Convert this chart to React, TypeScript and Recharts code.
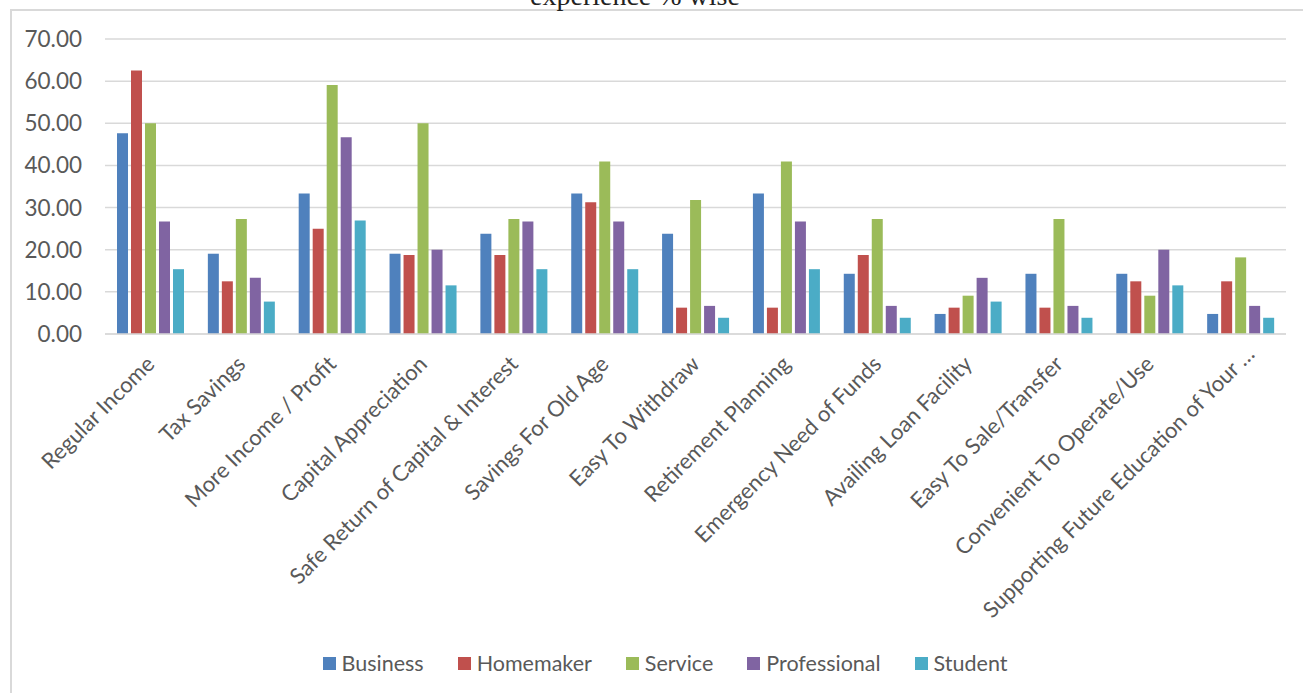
import React from 'react';
import { BarChart, Bar, XAxis, YAxis, CartesianGrid, Legend } from 'recharts';

const categories = [
  'Regular Income',
  'Tax Savings',
  'More Income / Profit',
  'Capital Appreciation',
  'Safe Return of Capital & Interest',
  'Savings For Old Age',
  'Easy To Withdraw',
  'Retirement Planning',
  'Emergency Need of Funds',
  'Availing Loan Facility',
  'Easy To Sale/Transfer',
  'Convenient To Operate/Use',
  'Supporting Future Education of Your …',
];
const business = [47.62, 19.05, 33.33, 19.05, 23.81, 33.33, 23.81, 33.33, 14.29, 4.76, 14.29, 14.29, 4.76];
const homemaker = [62.5, 12.5, 25.0, 18.75, 18.75, 31.25, 6.25, 6.25, 18.75, 6.25, 6.25, 12.5, 12.5];
const service = [50.0, 27.27, 59.09, 50.0, 27.27, 40.91, 31.82, 40.91, 27.27, 9.09, 27.27, 9.09, 18.18];
const professional = [26.67, 13.33, 46.67, 20.0, 26.67, 26.67, 6.67, 26.67, 6.67, 13.33, 6.67, 20.0, 6.67];
const student = [15.38, 7.69, 26.92, 11.54, 15.38, 15.38, 3.85, 15.38, 3.85, 7.69, 3.85, 11.54, 3.85];

const seriesNames = ['Business', 'Homemaker', 'Service', 'Professional', 'Student'];
const seriesColors = ['#4F81BD', '#C0504D', '#9BBB59', '#8064A2', '#4BACC6'];
const yTicks = [0, 10, 20, 30, 40, 50, 60, 70];
const titleText = 'experience % wise';

const seriesValues = [business, homemaker, service, professional, student];
const data = categories.map((c, i) => {
  const row: Record<string, any> = { category: c };
  seriesNames.forEach((s, j) => {
    row[s] = seriesValues[j][i];
  });
  return row;
});

const FONT = 'Lato, "Open Sans", sans-serif';
const TEXT_COLOR = '#595959';

const XTick = (props: any) => {
  const { x, y, payload } = props;
  const ax = x;
  const ay = y + 26;
  const shift = String(payload.value).endsWith('…') ? 14 : 0;
  return (
    <text
      x={ax}
      y={ay}
      dx={shift}
      dy="0.35em"
      textAnchor="end"
      transform={`rotate(-45, ${ax}, ${ay})`}
      fontFamily={FONT}
      fontSize={22}
      fill={TEXT_COLOR}
    >
      {payload.value}
    </text>
  );
};

const LegendContent = () => (
  <div
    style={{
      display: 'flex',
      justifyContent: 'center',
      alignItems: 'center',
      fontFamily: FONT,
      fontSize: 21.5,
      color: TEXT_COLOR,
      lineHeight: '26px',
    }}
  >
    {seriesNames.map((n, i) => (
      <div key={n} style={{ display: 'flex', alignItems: 'center', marginRight: i < seriesNames.length - 1 ? 34 : 0 }}>
        <span style={{ display: 'inline-block', width: 13, height: 13, background: seriesColors[i], marginRight: 6 }} />
        <span>{n}</span>
      </div>
    ))}
  </div>
);

export default function App() {
  return (
    <div style={{ position: 'absolute', left: 0, top: 0, width: 1303, height: 693, overflow: 'hidden', background: '#fff' }}>
      <div
        style={{
          position: 'absolute',
          left: 10,
          top: 9,
          width: 1400,
          height: 800,
          border: '2px solid #d9d9d9',
          boxSizing: 'border-box',
        }}
      />
      <svg style={{ position: 'absolute', left: 0, top: 0 }} width={1303} height={30}>
        <text x={635} y={5} textAnchor="middle" fontFamily='"Liberation Serif", "DejaVu Serif", serif' fontSize={28} fill="#222">
          {titleText}
        </text>
      </svg>
      <div style={{ position: 'absolute', left: 0, top: 0 }}>
        <BarChart
          width={1303}
          height={693}
          data={data}
          margin={{ top: 39, right: 17, bottom: 0, left: 0 }}
          barGap={3}
          barSize={11}
        >
          <CartesianGrid vertical={false} stroke="#d9d9d9" strokeWidth={1.5} />
          <XAxis
            dataKey="category"
            height={359}
            interval={0}
            tickLine={false}
            tickSize={0}
            tickMargin={0}
            axisLine={{ stroke: '#d9d9d9', strokeWidth: 1.5 }}
            tick={<XTick />}
          />
          <YAxis
            width={105}
            domain={[0, 70]}
            ticks={yTicks}
            interval={0}
            tickLine={false}
            axisLine={false}
            tickSize={0}
            tickMargin={23}
            tickFormatter={(v: number) => v.toFixed(2)}
            tick={{ fontFamily: FONT, fontSize: 22.5, fill: TEXT_COLOR }}
          />
          <Legend
            verticalAlign="middle"
            align="center"
            layout="horizontal"
            wrapperStyle={{ top: 650, left: 0, width: 1330 }}
            content={<LegendContent />}
          />
          {seriesNames.map((s, i) => (
            <Bar key={s} dataKey={s} fill={seriesColors[i]} isAnimationActive={false} />
          ))}
        </BarChart>
      </div>
    </div>
  );
}
